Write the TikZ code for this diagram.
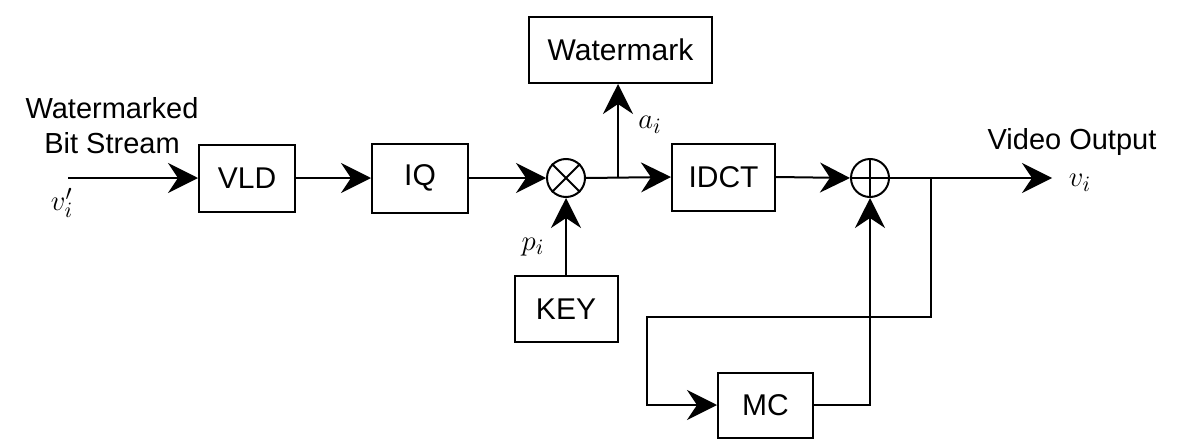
\documentclass[tikz,border=0pt]{standalone}
\usepackage{fontspec}
\setmainfont{Liberation Sans}
\usetikzlibrary{arrows.meta}
\begin{document}
\begin{tikzpicture}[x=0.5pt,y=-0.5pt,
  line width=1pt,
  blk/.style={draw, rectangle, inner sep=0pt, font=\fontsize{15}{18}\selectfont},
  junc/.style={draw, circle, minimum size=19pt, inner sep=0pt},
  arr/.style={-{Stealth[length=15pt,width=15pt,inset=5pt]}},
  lbl/.style={font=\fontsize{14.5}{17.5}\selectfont, inner sep=0pt, align=center},
  mlbl/.style={font=\fontsize{15}{18}\selectfont, inner sep=0pt}]
\useasboundingbox (0,0) rectangle (1183,439);

% processing blocks
\node[blk, minimum width=48pt, minimum height=33.5pt] (vld) at (247,178) {VLD};
\node[blk, minimum width=48pt, minimum height=34.5pt] (iq) at (420,178) {IQ};
\node[blk, minimum width=51.5pt, minimum height=33.5pt] (idct) at (723.5,177) {IDCT};
\node[blk, minimum width=91.5pt, minimum height=33pt] (wm) at (620.5,50) {Watermark};
\node[blk, minimum width=51.5pt, minimum height=33pt] (key) at (566,309) {KEY};
\node[blk, minimum width=47.5pt, minimum height=32.5pt] (mc) at (765.5,405) {MC};

% multiplier and adder
\node[junc] (mul) at (566,178) {};
\draw (mul.north west) -- (mul.south east) (mul.north east) -- (mul.south west);
\node[junc] (add) at (870,178) {};
\draw (add.north) -- (add.south) (add.west) -- (add.east);

% helper points
\coordinate (in) at (68,178);
\coordinate (br) at (618,178);
\coordinate (out) at (1052,178);
\coordinate (tap) at (931,178);
\coordinate (c1) at (931,317);
\coordinate (c2) at (647,317);

% forward path
\draw[arr] (in) -- (vld.west);
\draw[arr] (vld.east) -- (iq.west);
\draw[arr] (iq.east) -- (mul.west);
\draw[arr] (mul.east) -- (idct.west);
\draw[arr] (br) -- (br |- wm.south);
\draw[arr] (key.north) -- (mul.south);
\draw[arr] (idct.east) -- (add.west);
\draw[arr] (add.east) -- (out);

% motion-compensation loop
\draw[arr] (tap) -- (c1) -- (c2) |- (mc.west);
\draw[arr] (mc.east) -| (add.south);

% labels
\node[lbl] (tin) at (112,125.5) {Watermarked\\Bit Stream};
\node[mlbl] (vin) at (62,203) {$v'_i$};
\node[mlbl] (ai) at (650,125) {$a_i$};
\node[mlbl] (pi) at (533,247) {$p_i$};
\node[lbl] (tout) at (1072,142) {Video Output};
\node[mlbl] (vout) at (1080,183) {$v_i$};
\end{tikzpicture}
\end{document}
